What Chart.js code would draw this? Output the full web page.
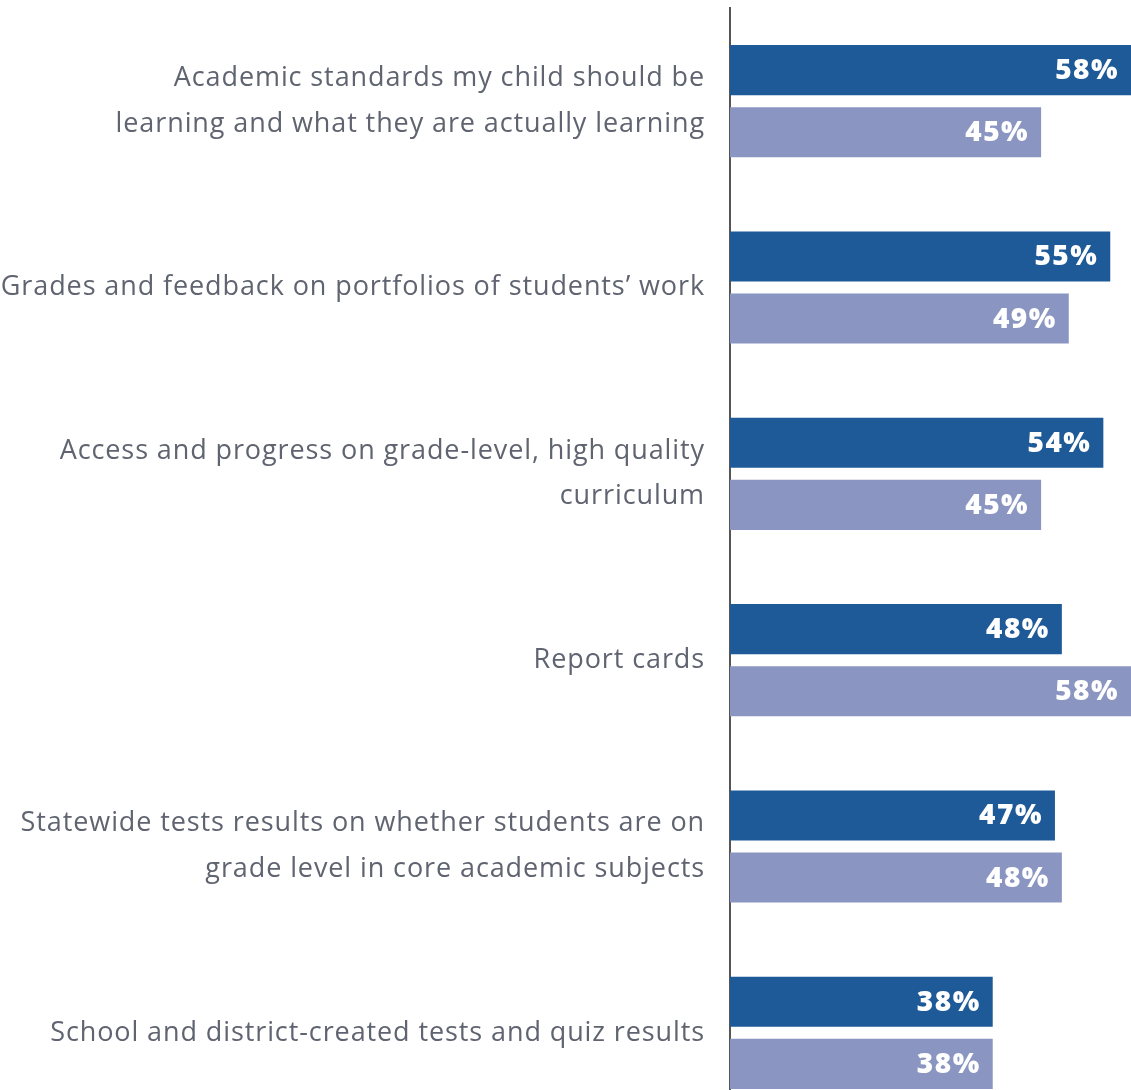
<!DOCTYPE html>
<html>
<head>
<meta charset="utf-8">
<script src="https://cdn.jsdelivr.net/npm/chart.js@4.4.0/dist/chart.umd.min.js"></script>
<style>
  html, body { margin: 0; padding: 0; background: #fff; overflow: hidden; }
  #wrap { position: relative; width: 1131px; height: 1126px; }
</style>
</head>
<body>
<div id="wrap"><canvas id="myChart"></canvas></div>
<script>
const categorias = [
    ['Academic standards my child should be', 'learning and what they are actually learning'],
    'Grades and feedback on portfolios of students\u2019 work',
    ['Access and progress on grade-level, high quality', 'curriculum'],
    'Report cards',
    ['Statewide tests results on whether students are on', 'grade level in core academic subjects'],
    'School and district-created tests and quiz results'
];
const serieA = [58, 55, 54, 48, 47, 38];
const serieB = [45, 49, 45, 58, 48, 38];
const colorA = '#1f5a98';
const colorB = '#8a96c1';
const fuenteTexto = '"Open Sans", "Noto Sans", sans-serif';

// espaciado de letras para las etiquetas del eje
const espaciado = {
    id: 'espaciado',
    beforeDraw(chart){
        chart.ctx.letterSpacing = '0.9px';
    },
    beforeDatasetsDraw(chart){
        chart.ctx.letterSpacing = '0px';
    }
};

// etiquetas de porcentaje dentro de cada barra
const etiquetasValor = {
    id: 'etiquetasValor',
    afterDatasetsDraw(chart){
        const ctx = chart.ctx;
        ctx.save();
        ctx.font = '800 28px ' + fuenteTexto;
        ctx.letterSpacing = '1.5px';
        ctx.fillStyle = '#fff';
        ctx.textAlign = 'right';
        ctx.textBaseline = 'middle';
        chart.data.datasets.forEach(function(ds, i){
            chart.getDatasetMeta(i).data.forEach(function(bar, j){
                ctx.fillText(ds.data[j] + '%', bar.x - 12, bar.y + 1);
            });
        });
        ctx.restore();
    }
};

let ctx = document.getElementById('myChart');
let myChart = new Chart(ctx, {
    type: 'bar',
    data: {
        labels: categorias,
        datasets: [
            { label: 'A', data: serieA, backgroundColor: colorA, borderWidth: 0 },
            { label: 'B', data: serieB, backgroundColor: colorB, borderWidth: 0 }
        ]
    },
    options: {
        indexAxis: 'y',
        responsive: true,
        maintainAspectRatio: false,
        animation: false,
        categoryPercentage: 0.667,
        barPercentage: 0.806,
        layout: { padding: { top: 8, right: 0, bottom: 0, left: 0 } },
        plugins: { legend: { display: false }, tooltip: { enabled: false } },
        scales: {
            x: {
                display: false,
                min: 0,
                max: 58
            },
            y: {
                grid: { display: false },
                border: { display: true, color: '#555', width: 2 },
                ticks: {
                    color: '#5f6470',
                    padding: 17,
                    font: { family: fuenteTexto, size: 27, weight: '400', lineHeight: 1.70 }
                },
                afterFit(scale){
                    scale.width = 730;
                    scale.paddingTop = 0;
                    scale.paddingBottom = 0;
                }
            }
        }
    },
    plugins: [espaciado, etiquetasValor]
});
</script>
</body>
</html>
